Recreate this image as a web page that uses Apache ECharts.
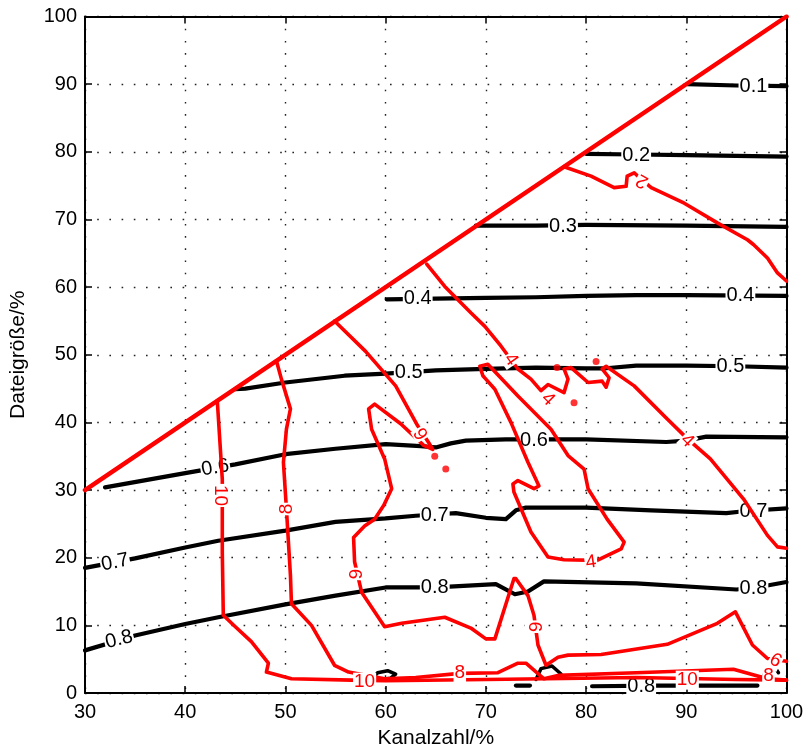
<!DOCTYPE html>
<html>
<head>
<meta charset="utf-8">
<script src="https://cdn.jsdelivr.net/npm/echarts@6/dist/echarts.min.js"></script>
<style>html,body{margin:0;padding:0;background:#fff;}#c{width:807px;height:754px;}</style>
</head>
<body>
<div id="c"></div>
<script>
// ---------- data ----------
const xTicks = [30, 40, 50, 60, 70, 80, 90, 100];
const yTicks = [0, 10, 20, 30, 40, 50, 60, 70, 80, 90, 100];

// black contours (ratio levels)
const c01 = [[90.1,90.0],[95,89.8],[100,89.7]];
const c02 = [[80.0,79.7],[85,79.6],[90,79.5],[100,79.3]];
const c03 = [[69.0,69.1],[75,69.1],[80,69.2],[90,69.1],[100,68.9]];
const c04 = [[60.1,58.2],[65,58.3],[70,58.4],[75,58.5],[80,58.7],[85,58.8],[90,58.8],[100,58.7]];
const c05 = [[45.0,44.9],[46,45.0],[50,45.9],[55.9,46.9],[60,47.2],[65,47.7],[70,47.9],[75,48.1],[80,48.0],[82,48.0],[85,48.4],[90,48.4],[95,48.3],[100,48.1]];
const c06 = [[32.0,30.4],[40,32.5],[45,33.8],[50,35.3],[55,36.1],[60,36.8],[63.5,36.5],[65,36.3],[66.5,36.9],[68,37.3],[72,37.5],[80,37.5],[88,37.1],[90,37.3],[92,37.9],[100,37.8]];
const c07 = [[30,18.5],[35,19.9],[40,21.5],[43.3,22.5],[50,24.0],[55,25.3],[60,25.8],[63,26.2],[67,26.6],[70,25.9],[72,25.7],[73,27.0],[74,27.4],[80,27.4],[86.5,27.0],[94,26.6],[96,26.9],[100,27.3]];
const c08 = [[30,6.3],[35,8.5],[40,10.2],[43.3,11.2],[50,13.1],[55,14.4],[60,15.6],[65,15.6],[71,16.1],[72.9,14.6],[74.2,15.0],[75.8,16.5],[85,16.2],[95,15.3],[97,15.6],[100,16.4]];
const c08bA = [[73.0,1.1],[74.4,1.1]];
const c08bB = [[80.6,1.0],[87,1.1],[97.1,1.1]];
const loopA = [[58.7,2.2],[59.2,3.0],[60.2,3.3],[61.0,2.8],[60.5,2.2],[59.5,2.0],[58.7,2.2]];
const loopB = [[75.0,2.0],[75.5,3.6],[76.6,4.0],[77.5,2.8]];
const loopC = [[97.6,2.2],[98.0,3.5],[98.8,3.9],[99.2,3.0]];

// red contours
const diag = [[30,30],[100,100]];
const r2 = [[77.8,77.8],[80.5,76.4],[82.8,74.7],[84.0,74.9],[84.1,76.4],[84.8,76.9],[85.6,75.8],[86.5,74.7],[89.8,72.4],[93.1,69.5],[96.1,67.0],[96.7,66.3],[98.1,64.3],[99.1,62.1],[100,60.9]];
const r4a = [[64.1,63.4],[65.9,60.1],[68.5,56.2],[69.9,54.2],[71.5,51.3],[73.2,47.9],[74.5,46.4],[75.5,44.7],[76.2,45.6],[77.8,44.4],[78.2,46.4],[77.8,47.9],[78.5,48.1],[80.2,45.9],[81.6,46.1],[82.0,45.2],[82.3,46.6],[81.6,47.9],[82.0,48.3],[84.8,45.4],[88.1,40.5],[90.1,37.6],[92.4,34.6],[95.7,28.7],[98.1,23.3],[99.1,21.6],[100,21.4]];
const r4b = [[69.4,48.3],[70.2,48.6],[73.2,43.9],[76.5,39.0],[78.2,35.1],[79.8,33.1],[80.2,30.2],[82.1,25.7],[83.8,22.3],[83.5,21.3],[81.1,19.6],[77.8,19.7],[76.2,20.1],[74.5,23.8],[72.8,29.7],[72.7,30.9],[73.2,31.4],[74.8,30.2],[75.3,30.6],[74.2,34.1],[72.5,40.0],[70.9,44.9],[70.0,46.4],[69.7,46.9],[69.4,48.3]];
const r6 = [[54.9,55.0],[58,50.5],[61,45.4],[63.2,39.5],[64.3,37.0],[64.7,36.0],[63.8,36.6],[61.5,39.8],[58.9,42.7],[58.3,42.0],[58.6,39.0],[59.9,34.6],[60.6,30.2],[59.8,27.7],[58.9,25.7],[57.9,24.7],[56.8,23.0],[56.9,19.4],[57.6,14.9],[59.9,9.8],[61.6,10.3],[65.9,11.2],[68.5,9.6],[70.0,8.0],[70.9,8.0],[72.8,16.9],[73.0,16.9],[74.2,14.4],[74.8,11.5],[75.2,7.1],[76.0,4.1],[77.2,5.3],[78.2,5.6],[81.5,5.7],[88.1,7.2],[93.1,10.3],[94.9,12.0],[96.6,7.1],[98.1,5.1],[100,4.7]];
const r8 = [[49.1,49.1],[49.6,46.4],[50.5,42.0],[50.1,39.0],[49.8,34.1],[50.1,27.2],[50.5,17.4],[50.6,13.2],[52.6,10.0],[54.9,4.1],[56.3,3.1],[59.9,2.1],[63,2.3],[67.4,2.9],[71.2,3.0],[73.2,4.4],[74.0,4.4],[75.8,2.1],[77.2,2.6],[85,3.0],[94.7,3.5],[98.1,2.1],[100,1.9]];
const r10 = [[43.2,43.2],[43.7,31.6],[43.7,20.8],[43.8,11.5],[45.0,9.8],[46.6,7.6],[48.3,4.4],[48.1,3.1],[50.6,2.1],[56.6,1.9],[60,1.8],[70,2.0],[76,2.1],[85,2.3],[95,2.0],[100,1.9]];
const redDots = [[64.9,35.0],[66.0,33.1],[77.1,48.1],[81.0,49.0],[78.8,42.9]];

// contour labels [x, y, text]
const blackLabels = [[96.7,89.7,'0.1'],[85.0,79.5,'0.2'],[77.7,69.0,'0.3'],[63.2,58.3,'0.4'],[95.4,58.7,'0.4'],
  [62.3,47.4,'0.5'],[94.4,48.3,'0.5'],[43.0,33.3,'0.6'],[74.8,37.4,'0.6'],[33.0,19.3,'0.7'],[64.9,26.3,'0.7'],
  [96.7,26.9,'0.7'],[33.4,7.9,'0.8'],[64.9,15.6,'0.8'],[96.7,15.5,'0.8'],[85.5,1.0,'0.8']];
const redLabels = [[85.6,75.7,'2'],[72.5,49.3,'4'],[90.1,37.3,'4'],[80.5,19.3,'4'],[76.2,43.4,'4'],
  [63.6,38.4,'6'],[56.9,17.6,'6'],[74.8,9.8,'6'],[98.9,4.8,'6'],[50.1,27.2,'8'],[67.4,3.0,'8'],[98.2,2.6,'8'],
  [43.5,29.2,'10'],[57.9,1.6,'10'],[90.1,1.9,'10']];

// ---------- styling ----------
const blackAngles = [0,0,0,0,0,0,0,10,0,11,0,0,14,0,0,0];
const redAngles = [150,-55,-45,8,-45,120,-90,-90,-30,90,0,0,-90,0,0];
const FONT = 'Liberation Sans, Arial, Helvetica, sans-serif';

function lineSeries(data, color, width, z) {
  return { type: 'line', data: data, showSymbol: false, symbol: 'none', z: z, silent: true,
    lineStyle: { color: color, width: width, cap: 'round', join: 'round' }, animation: false };
}
function labelSeries(list, angles, color, z, size) {
  return { type: 'scatter', z: z, symbolSize: 0, itemStyle: { color: color, opacity: 1 }, silent: true, animation: false,
    data: list.map((d, i) => ({ name: d[2], value: [d[0], d[1]],
      label: { rotate: angles[i] } })),
    label: { show: true, position: 'inside', formatter: '{b}', color: color, opacity: 1, fontSize: size,
      fontFamily: FONT, backgroundColor: '#fff', padding: [0, 1], lineHeight: size,
      textBorderWidth: 0, textShadowBlur: 0 } };
}

const axisCommon = {
  type: 'value',
  axisLine: { show: true, onZero: false, lineStyle: { color: '#000', width: 2 } },
  axisTick: { show: true, inside: true, length: 7, lineStyle: { color: '#000', width: 1.5 } }
};

const option = {
  backgroundColor: '#fff',
  animation: false,
  grid: { left: 82.7, right: 20.5, top: 16.5, bottom: 59.5, containLabel: false },
  xAxis: [
    Object.assign({}, axisCommon, { min: xTicks[0], max: xTicks[xTicks.length - 1], interval: 10, position: 'bottom',
      name: 'Kanalzahl/%', nameLocation: 'middle', nameGap: 35,
      nameTextStyle: { fontSize: 21, color: '#000', fontFamily: FONT },
      axisLabel: { color: '#000', fontSize: 20, margin: 9, fontFamily: FONT },
      splitLine: { show: true, lineStyle: { color: '#222', width: 1.4, type: [1.6, 10.6] } } }),
    Object.assign({}, axisCommon, { min: xTicks[0], max: xTicks[xTicks.length - 1], interval: 10, position: 'top',
      axisLabel: { show: false }, splitLine: { show: false } })
  ],
  yAxis: [
    Object.assign({}, axisCommon, { min: yTicks[0], max: yTicks[yTicks.length - 1], interval: 10, position: 'left',
      name: 'Dateigröße/%', nameLocation: 'middle', nameGap: 56,
      nameTextStyle: { fontSize: 21, color: '#000', fontFamily: FONT },
      axisLabel: { color: '#000', fontSize: 20, margin: 8, fontFamily: FONT },
      splitLine: { show: true, lineStyle: { color: '#222', width: 1.4, type: [1.6, 10.6] } } }),
    Object.assign({}, axisCommon, { min: yTicks[0], max: yTicks[yTicks.length - 1], interval: 10, position: 'right',
      axisLabel: { show: false }, splitLine: { show: false } })
  ],
  series: [
    lineSeries(c01, '#000', 4.2, 2), lineSeries(c02, '#000', 4.2, 2), lineSeries(c03, '#000', 4.2, 2),
    lineSeries(c04, '#000', 4.2, 2), lineSeries(c05, '#000', 4.2, 2), lineSeries(c06, '#000', 4.2, 2),
    lineSeries(c07, '#000', 4.2, 2), lineSeries(c08, '#000', 4.2, 2), lineSeries(c08bA, '#000', 4.2, 2),
    lineSeries(c08bB, '#000', 4.2, 2), lineSeries(loopA, '#000', 3.5, 2), lineSeries(loopB, '#000', 3.5, 2),
    lineSeries(loopC, '#000', 3.5, 2),
    labelSeries(blackLabels, blackAngles, '#000', 3, 20),
    lineSeries(r2, '#ff0000', 3.6, 4), lineSeries(r4a, '#ff0000', 3.6, 4), lineSeries(r4b, '#ff0000', 3.6, 4),
    lineSeries(r6, '#ff0000', 3.6, 4), lineSeries(r8, '#ff0000', 3.6, 4), lineSeries(r10, '#ff0000', 3.6, 4),
    lineSeries(diag, '#ff0000', 4.5, 5),
    { type: 'scatter', data: redDots, symbolSize: 7, z: 5, silent: true, itemStyle: { color: '#ff0000' } },
    labelSeries(redLabels, redAngles, '#ff0000', 6, 19)
  ]
};

const chart = echarts.init(document.getElementById('c'), null, { renderer: 'canvas' });
chart.setOption(option);
</script>
</body>
</html>
